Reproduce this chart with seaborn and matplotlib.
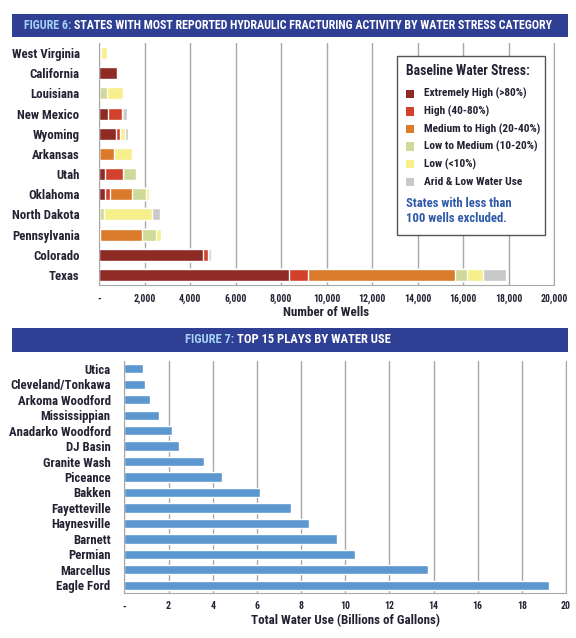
import pandas as pd
import matplotlib.pyplot as plt
from matplotlib import font_manager
from matplotlib.patches import Rectangle
import seaborn as sns

# figure 6 data: wells per state split by baseline water stress
states = ['West Virginia', 'California', 'Louisiana', 'New Mexico', 'Wyoming', 'Arkansas',
          'Utah', 'Oklahoma', 'North Dakota', 'Pennsylvania', 'Colorado', 'Texas']
extremely_high = [0, 800, 0, 410, 750, 0, 280, 270, 0, 0, 4560, 8365]
high = [0, 40, 0, 590, 175, 0, 790, 215, 0, 50, 240, 820]
medium_high = [0, 0, 0, 0, 0, 660, 0, 965, 0, 1855, 0, 6465]
low_medium = [80, 0, 340, 0, 0, 0, 560, 615, 220, 600, 0, 540]
low = [260, 0, 730, 0, 220, 775, 0, 145, 2095, 205, 0, 705]
arid = [0, 0, 0, 245, 130, 0, 0, 0, 365, 0, 110, 995]

stress_labels = ['Extremely High (>80%)', 'High (40-80%)', 'Medium to High (20-40%)',
                 'Low to Medium (10-20%)', 'Low (<10%)', 'Arid & Low Water Use']
stress_colors = ['#8E2B25', '#D2412C', '#DA7A2B', '#CFD99A', '#F6EF8C', '#C9C9C9']

# figure 7 data: water use per play (billions of gallons)
plays = ['Utica', 'Cleveland/Tonkawa', 'Arkoma Woodford', 'Mississippian', 'Anadarko Woodford',
         'DJ Basin', 'Granite Wash', 'Piceance', 'Bakken', 'Fayetteville', 'Haynesville',
         'Barnett', 'Permian', 'Marcellus', 'Eagle Ford']
water_use = [0.82, 0.94, 1.15, 1.55, 2.14, 2.47, 3.61, 4.40, 6.15, 7.54, 8.36, 9.61, 10.43, 13.75, 19.25]

wells_ticks = list(range(0, 20001, 2000))
use_ticks = list(range(0, 21, 2))

sns.set_style('white')

# look for a condensed face, the original uses a bold condensed type
fam, stretch = 'Liberation Sans', 'normal'
names = {f.name for f in font_manager.fontManager.ttflist}
for cand in ['Liberation Sans Narrow', 'Roboto Condensed', 'Open Sans Condensed',
             'Noto Sans Condensed', 'DejaVu Sans Condensed']:
    if cand in names:
        fam = cand
        break
else:
    for f in font_manager.fontManager.ttflist:
        if f.stretch in ('condensed', 'semi-condensed', 'extra-condensed') and f.name in \
                ('Noto Sans', 'Roboto', 'Open Sans', 'DejaVu Sans', 'Inter', 'Lato'):
            fam, stretch = f.name, f.stretch
            break
plt.rcParams['font.family'] = [fam, 'DejaVu Sans']
plt.rcParams['font.stretch'] = stretch
plt.rcParams['font.weight'] = 'bold'

navy = '#2F3F94'
light_blue = '#A6D3F5'
dark = '#222233'
grid_col = '#A8A8A8'

fig = plt.figure(figsize=(5.76, 6.38), dpi=100)
ax1 = fig.add_axes([0.1719, 0.5533, 0.790, 0.3793])
ax2 = fig.add_axes([0.2161, 0.0705, 0.7665, 0.3636])
renderer = fig.canvas.get_renderer()


def fit_size(text, width_px):
    # font size that gives the text the width it has in the original
    t = fig.text(0, 0, text, fontsize=10, fontweight='bold')
    w = t.get_window_extent(renderer).width
    t.remove()
    return 10 * width_px / w


# stacked bars: draw cumulative totals from the last category back to the first
df = pd.DataFrame({'eh': extremely_high, 'h': high, 'mh': medium_high,
                   'lm': low_medium, 'l': low, 'a': arid}, index=states)
cum = df.cumsum(axis=1)
for col, color in reversed(list(zip(df.columns, stress_colors))):
    sns.barplot(x=cum[col].values, y=states, color=color, saturation=1,
                width=0.6, orient='h', ax=ax1)

sns.barplot(x=water_use, y=plays, color='#5D97D0', saturation=1,
            width=0.6, orient='h', ax=ax2)

tick_size = fit_size('20,000', 27)
label_size = min(fit_size('West Virginia', 70), fit_size('Anadarko Woodford', 102))


def style_axis(ax, ticks, labels, xlabel, ypad):
    ax.set_xlim(ticks[0], ticks[-1])
    ax.set_xticks(ticks)
    ax.set_xticklabels(labels)
    ax.set_axisbelow(True)
    ax.xaxis.grid(True, color=grid_col, lw=1)
    ax.yaxis.grid(False)
    for side in ['left', 'bottom', 'right']:
        ax.spines[side].set_visible(True)
        ax.spines[side].set_color(grid_col)
    ax.spines['top'].set_visible(False)
    ax.tick_params(axis='x', length=0, pad=6, labelsize=tick_size, labelcolor=dark)
    ax.tick_params(axis='y', length=0, pad=ypad, labelsize=label_size, labelcolor=dark)
    ax.set_ylabel('')
    ax.set_xlabel(xlabel, fontsize=fit_size('Total Water Use (Billions of Gallons)', 189),
                  color=dark, fontweight='bold', labelpad=2)


style_axis(ax1, wells_ticks, ['-'] + [f'{t:,}' for t in wells_ticks[1:]], 'Number of Wells', 14)
style_axis(ax2, use_ticks, ['-'] + [str(t) for t in use_ticks[1:]],
           'Total Water Use (Billions of Gallons)', 10)

# legend box for figure 6
ax1.add_patch(Rectangle((0.655, 0.207), 0.325, 0.739, transform=ax1.transAxes,
                        facecolor='white', edgecolor='#555555', lw=1, zorder=5))
ax1.text(0.674, 0.885, 'Baseline Water Stress:', transform=ax1.transAxes,
         fontsize=fit_size('Baseline Water Stress:', 124), color=dark, va='center', zorder=6)
entry_size = fit_size('Medium to High (20-40%)', 117)
for i, (lab, col) in enumerate(zip(stress_labels, stress_colors)):
    yy = 0.790 - i * 0.0727
    ax1.add_patch(Rectangle((0.675, yy - 0.017), 0.018, 0.034, transform=ax1.transAxes,
                            facecolor=col, edgecolor='none', zorder=6))
    ax1.text(0.714, yy, lab, transform=ax1.transAxes, fontsize=entry_size, color=dark,
             va='center', zorder=6)
ax1.text(0.674, 0.305, 'States with less than\n100 wells excluded.', transform=ax1.transAxes,
         fontsize=fit_size('States with less than', 105), color='#2F5AA8', va='center',
         linespacing=1.15, zorder=6)


# title banners
def banner(y0, h, head, rest, width_px):
    size = fit_size(head + rest, width_px)
    fig.add_artist(Rectangle((0.0208, y0), 0.965, h, transform=fig.transFigure,
                             facecolor=navy, edgecolor='none'))
    yc = y0 + h / 2
    t = fig.text(0.5, yc, head + rest, fontsize=size, va='center', ha='center')
    full = t.get_window_extent(renderer)
    t.remove()
    x0 = full.x0 / fig.bbox.width
    t1 = fig.text(x0, yc, head, fontsize=size, color=light_blue, va='center')
    w = t1.get_window_extent(renderer).width / fig.bbox.width
    fig.text(x0 + w, yc, rest, fontsize=size, color='white', va='center')


banner(0.942, 0.036, 'FIGURE 6: ',
       'STATES WITH MOST REPORTED HYDRAULIC FRACTURING ACTIVITY BY WATER STRESS CATEGORY', 535)
banner(0.4483, 0.0376, 'FIGURE 7: ', 'TOP 15 PLAYS BY WATER USE', 205)

fig.savefig('out.png', dpi=100)
